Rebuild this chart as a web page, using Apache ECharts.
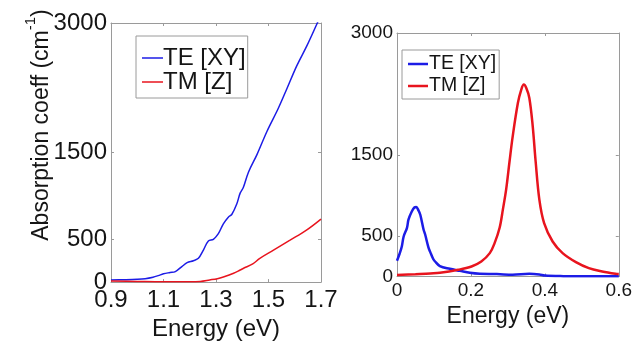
<!DOCTYPE html>
<html><head><meta charset="utf-8">
<script src="https://cdn.jsdelivr.net/npm/echarts@6/dist/echarts.min.js"></script>
<style>html,body{margin:0;padding:0;background:#fff}#c{width:635px;height:346px}</style>
</head><body><div id="c"></div>
<script>
// ---- Data ----
const leftTE_E = [0.90,0.95,1.00,1.03,1.06,1.08,1.10,1.125,1.145,1.17,1.19,1.214,1.233,1.252,1.271,1.29,1.309,1.328,1.347,1.36,1.379,1.392,1.404,1.424,1.456,1.494,1.537,1.57,1.608,1.646,1.686,1.70];
const leftTE   = [25,28,33,40,57,75,96,111,122,180,225,248,275,371,477,495,561,675,752,783,904,1030,1095,1275,1476,1744,2010,2239,2506,2735,3000,3095];
const leftTM_E = [0.90,1.00,1.10,1.20,1.24,1.276,1.305,1.328,1.367,1.392,1.405,1.44,1.467,1.519,1.582,1.646,1.70];
const leftTM   = [12,8,5,5,8,25,40,60,103,140,160,210,275,370,485,605,730];

const rightTE_E = [0,0.007,0.013,0.018,0.027,0.031,0.04,0.047,0.052,0.058,0.063,0.072,0.076,0.085,0.09,0.098,0.103,0.116,0.143,0.17,0.197,0.224,0.27,0.313,0.358,0.385,0.40,0.45,0.5,0.6];
const rightTE   = [195,280,370,493,600,700,800,850,855,815,761,576,520,360,300,215,185,128,95,70,45,33,30,21,33,25,12,4,2,2];
const rightTM_E = [0,0.05,0.09,0.116,0.1655,0.2015,0.228,0.251,0.264,0.2776,0.2866,0.2955,0.3045,0.313,0.327,0.336,0.343,0.35,0.358,0.367,0.375,0.385,0.398,0.421,0.448,0.484,0.519,0.555,0.591,0.6];
const rightTM   = [20,28,38,45,82,123,185,288,411,600,830,1080,1420,1726,2137,2300,2364,2320,2200,1860,1420,950,658,431,288,177,103,62,33,30];

const seriesNames = ['TE [XY]', 'TM [Z]'];
const leftXLabels = [0.9,1.1,1.3,1.5,1.7];
const leftXTicks = [1.1,1.3,1.5];
const leftYLabels = [0,500,1500,3000];
const leftYTicks = [500,1500];
const rightXLabels = [0,0.2,0.4,0.6];
const rightXTicks = [0.2,0.4];
const rightYLabels = [0,500,1500,3000];
const rightYTicks = [500,1500];
const xTitle = 'Energy (eV)';

// ---- Chart ----
const pairs = (xs, ys) => xs.map((x, i) => [x, ys[i]]);
const FONT = 'Liberation Sans, Arial, sans-serif';
const FRAME = '#9a9a9a';
const BLUE = '#1c1ce6';
const RED = '#e8141e';
const plain = v => String(v);

function xAx(grid, min, max, labels, ticks, fs, margin, nameGap, nameFs) {
  return [{
    gridIndex: grid, type: 'value', min, max, position: 'bottom',
    axisLine: {show: true, onZero: false, lineStyle: {color: FRAME, width: 1}},
    axisTick: {show: true, inside: true, length: 3, customValues: ticks, lineStyle: {color: FRAME}},
    axisLabel: {customValues: labels, formatter: plain, fontSize: fs, color: '#151515', fontFamily: FONT, margin},
    splitLine: {show: false},
    name: xTitle, nameLocation: 'middle', nameGap,
    nameTextStyle: {fontSize: nameFs, color: '#151515', fontFamily: FONT}
  }, {
    gridIndex: grid, type: 'value', min, max, position: 'top',
    axisLine: {show: true, onZero: false, lineStyle: {color: FRAME, width: 1}},
    axisTick: {show: true, inside: true, length: 3, customValues: ticks, lineStyle: {color: FRAME}},
    axisLabel: {show: false}, splitLine: {show: false}
  }];
}
function yAx(grid, labels, ticks, fs, margin) {
  return [{
    gridIndex: grid, type: 'value', min: 0, max: 3000, position: 'left',
    axisLine: {show: true, onZero: false, lineStyle: {color: FRAME, width: 1}},
    axisTick: {show: true, inside: true, length: 3, customValues: ticks, lineStyle: {color: FRAME}},
    axisLabel: {customValues: labels, formatter: plain, fontSize: fs, color: '#151515', fontFamily: FONT, margin},
    splitLine: {show: false}
  }, {
    gridIndex: grid, type: 'value', min: 0, max: 3000, position: 'right',
    axisLine: {show: true, onZero: false, lineStyle: {color: FRAME, width: 1}},
    axisTick: {show: true, inside: true, length: 3, customValues: ticks, lineStyle: {color: FRAME}},
    axisLabel: {show: false}, splitLine: {show: false}
  }];
}
function line(name, data, xi, yi, color, w) {
  return {name, type: 'line', xAxisIndex: xi, yAxisIndex: yi, data, symbol: 'none',
    smooth: 0.35, clip: true, lineStyle: {color, width: w}, itemStyle: {color}};
}

const option = {
  animation: false,
  backgroundColor: '#fff',
  grid: [
    {left: 111, top: 23, width: 210, height: 262.5},
    {left: 397, top: 33, width: 223, height: 243.5}
  ],
  xAxis: [].concat(xAx(0, 0.9, 1.7, leftXLabels, leftXTicks, 24, 6, 34, 24),
                   xAx(1, 0, 0.6, rightXLabels, rightXTicks, 19, 5, 23, 23)),
  yAxis: [].concat(yAx(0, leftYLabels, leftYTicks, 24, 4),
                   yAx(1, rightYLabels, rightYTicks, 19, 4)),
  legend: [{
    data: seriesNames, orient: 'vertical', left: 136, top: 36, icon: 'rect',
    itemWidth: 21, itemHeight: 1.5, itemGap: 0, padding: [10, 2, 4, 6],
    backgroundColor: '#fff', borderColor: FRAME, borderWidth: 1, borderRadius: 0,
    textStyle: {fontSize: 24, color: '#151515', fontFamily: FONT, padding: [0, 0, 0, -5]},
    selectedMode: false
  }, {
    data: seriesNames, orient: 'vertical', left: 402, top: 50, icon: 'rect',
    itemWidth: 20, itemHeight: 2.5, itemGap: 2, padding: [4, 3, 3, 6],
    backgroundColor: '#fff', borderColor: FRAME, borderWidth: 1, borderRadius: 0,
    textStyle: {fontSize: 19.5, color: '#151515', fontFamily: FONT, padding: [0, 0, 0, -4]},
    selectedMode: false
  }],
  graphic: [{
    type: 'text', x: 38, y: 125, rotation: Math.PI / 2,
    style: {
      text: '{a|Absorption coeff (cm}{s|-1}{a|)}',
      align: 'center', verticalAlign: 'middle', fill: '#151515',
      rich: {
        a: {fontSize: 23, fontFamily: FONT, fill: '#151515', lineHeight: 30, verticalAlign: 'bottom'},
        s: {fontSize: 15, fontFamily: FONT, fill: '#151515', verticalAlign: 'top'}
      }
    }
  }],
  series: [
    line(seriesNames[0], pairs(leftTE_E, leftTE), 0, 0, BLUE, 1.5),
    line(seriesNames[1], pairs(leftTM_E, leftTM), 0, 0, RED, 1.5),
    line(seriesNames[0], pairs(rightTE_E, rightTE), 2, 2, BLUE, 2.5),
    line(seriesNames[1], pairs(rightTM_E, rightTM), 2, 2, RED, 2.5)
  ]
};
const chart = echarts.init(document.getElementById('c'), null, {renderer: 'canvas'});
chart.setOption(option);
</script>
</body></html>
